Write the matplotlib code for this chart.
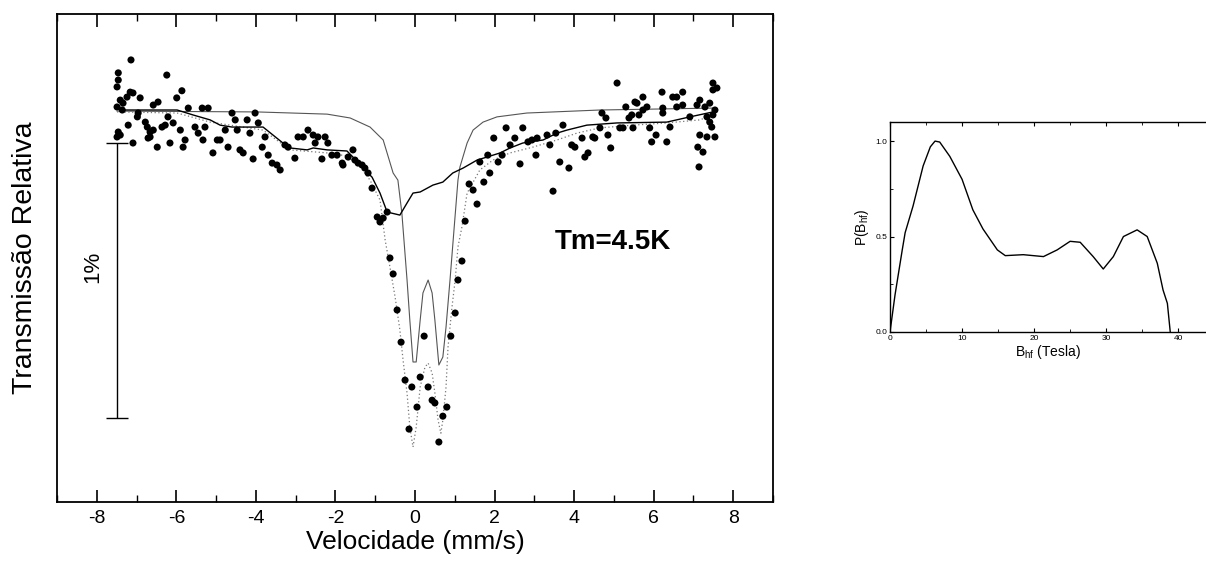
import matplotlib
matplotlib.use("Agg")
import matplotlib.pyplot as plt
from matplotlib.ticker import MultipleLocator
from matplotlib import font_manager as fm

names = {f.name for f in fm.fontManager.ttflist}
FAM = ['Liberation Sans Narrow', 'Liberation Sans', 'DejaVu Sans'] if 'Liberation Sans Narrow' in names else ['Liberation Sans', 'DejaVu Sans']
plt.rcParams['font.family'] = FAM
plt.rcParams['axes.unicode_minus'] = False
plt.rcParams['mathtext.default'] = 'regular'

# ---------------- data: Mossbauer spectrum ----------------
vel_data = [-7.14, -7.46, -7.46, -7.49, -6.24, -5.86, -7.16, -7.09, -6.91, -7.41,
            -7.34, -7.24, -5.99, -6.46, -6.58, -7.49, -7.36, -6.96, -6.98, -5.70,
            -5.35, -5.20, -6.21, -4.60, -4.52, -4.22, -4.02, -3.94, -6.78, -6.73,
            -6.66, -6.58, -7.21, -6.28, -6.36, -6.08, -5.53, -5.28, -5.90, -7.46,
            -7.41, -7.49, -5.45, -4.77, -4.47, -6.66, -6.71, -5.78, -5.83, -5.33,
            -4.97, -4.90, -4.15, -3.77, -7.09, -6.48, -6.16, -4.70, -4.40, -4.32,
            -3.84, -5.08, -4.07, -3.69, -3.59, -3.47, -3.39, -2.94, -2.81, -2.69,
            -2.56, -2.44, -2.26, -3.27, -3.19, -2.51, -2.19, -3.02, -2.34, -2.09,
            -1.96, -1.83, -1.81, -1.68, -1.56, -1.51, -1.43, -1.33, -1.26, -1.18,
            -1.08, -0.95, -0.88, -0.80, -0.70, -0.63, -0.55, -0.45, -0.35, -0.25,
            -0.08, -0.15, 0.05, 0.13, 0.23, 0.33, 0.43, 0.50, 0.60, 0.70,
            0.80, 0.90, 1.01, 1.08, 1.18, 1.26, 1.36, 1.46, 1.56, 1.73,
            1.88, 1.63, 1.83, 2.09, 1.98, 2.29, 2.71, 2.51, 2.39, 2.19,
            2.64, 2.84, 2.94, 3.07, 3.32, 3.04, 3.39, 3.54, 3.72, 3.64,
            3.87, 3.47, 3.94, 4.02, 4.20, 4.27, 4.35, 4.47, 4.52, 4.65,
            4.70, 4.80, 4.85, 4.92, 5.08, 5.15, 5.23, 5.30, 5.38, 5.45,
            5.48, 5.53, 5.58, 5.63, 5.73, 5.73, 5.83, 5.90, 5.95, 6.06,
            6.21, 6.23, 6.23, 6.33, 6.41, 6.48, 6.58, 6.73, 6.58, 6.73,
            6.91, 7.09, 7.16, 7.11, 7.24, 7.14, 7.16, 7.29, 7.41, 7.34,
            7.41, 7.46, 7.49, 7.49, 7.59, 7.54, 7.49, 7.54, 7.34]
trans_data = [100.182, 100.135, 100.109, 100.084, 100.127, 100.070, 100.065, 100.062, 100.044, 100.036,
              100.025, 100.047, 100.044, 100.029, 100.018, 100.011, 100.000, 99.989, 99.975, 100.007,
              100.007, 100.007, 99.975, 99.989, 99.964, 99.964, 99.989, 99.953, 99.956, 99.938,
              99.920, 99.927, 99.945, 99.945, 99.938, 99.953, 99.938, 99.938, 99.927, 99.920,
              99.909, 99.902, 99.916, 99.927, 99.927, 99.902, 99.898, 99.891, 99.865, 99.891,
              99.891, 99.891, 99.916, 99.902, 99.880, 99.865, 99.880, 99.865, 99.855, 99.844,
              99.865, 99.844, 99.822, 99.836, 99.807, 99.800, 99.782, 99.902, 99.902, 99.927,
              99.909, 99.902, 99.902, 99.873, 99.865, 99.880, 99.880, 99.825, 99.822, 99.836,
              99.836, 99.807, 99.800, 99.829, 99.855, 99.818, 99.807, 99.800, 99.789, 99.771,
              99.716, 99.611, 99.593, 99.607, 99.629, 99.462, 99.404, 99.273, 99.156, 99.018,
              98.993, 98.840, 98.920, 99.029, 99.178, 98.993, 98.945, 98.935, 98.793, 98.887,
              98.920, 99.178, 99.262, 99.382, 99.451, 99.596, 99.731, 99.709, 99.658, 99.738,
              99.771, 99.811, 99.836, 99.811, 99.898, 99.935, 99.935, 99.898, 99.873, 99.836,
              99.804, 99.884, 99.891, 99.898, 99.909, 99.836, 99.873, 99.916, 99.945, 99.811,
              99.789, 99.705, 99.873, 99.865, 99.898, 99.829, 99.844, 99.902, 99.898, 99.935,
              99.989, 99.971, 99.909, 99.862, 100.098, 99.935, 99.935, 100.011, 99.971, 99.982,
              99.935, 100.029, 100.025, 99.982, 100.000, 100.047, 100.011, 99.935, 99.884, 99.909,
              100.065, 100.007, 99.989, 99.884, 99.938, 100.047, 100.047, 100.065, 100.011, 100.018,
              99.975, 100.018, 100.036, 99.865, 99.847, 99.793, 99.909, 100.011, 100.025, 99.975,
              99.956, 99.938, 100.098, 100.073, 100.080, 100.000, 99.982, 99.902, 99.902]

# doublet subspectrum (thin line)
vel_doublet = [-7.49, -3.97, -2.21, -1.63, -1.13, -0.80, -0.55, -0.43, -0.33, -0.20,
               -0.13, -0.05, 0.03, 0.13, 0.20, 0.33, 0.43, 0.50, 0.60, 0.70,
               0.78, 0.88, 0.98, 1.08, 1.13, 1.31, 1.46, 1.71, 2.06, 2.81,
               4.65, 7.49]
trans_doublet = [99.996, 99.993, 99.985, 99.971, 99.938, 99.891, 99.771, 99.745, 99.625, 99.382,
                 99.236, 99.084, 99.084, 99.236, 99.335, 99.382, 99.335, 99.236, 99.073, 99.102,
                 99.211, 99.382, 99.564, 99.745, 99.793, 99.880, 99.927, 99.956, 99.975, 99.989,
                 100.000, 100.007]

# hyperfine-field distribution subspectrum (black line)
vel_hf = [-7.41, -5.98, -5.58, -5.15, -4.90, -4.60, -3.82, -3.32, -3.14, -2.71,
          -2.56, -2.21, -1.71, -1.56, -1.31, -1.08, -0.88, -0.70, -0.38, -0.20,
          -0.05, 0.13, 0.45, 0.70, 0.95, 1.21, 1.56, 1.81, 2.14, 2.39,
          2.71, 3.22, 3.57, 3.82, 4.32, 5.08, 6.33, 6.91, 7.49]
trans_hf = [100.000, 100.000, 99.982, 99.964, 99.945, 99.938, 99.938, 99.880, 99.862, 99.855,
            99.862, 99.855, 99.851, 99.829, 99.789, 99.756, 99.698, 99.629, 99.618, 99.662,
            99.698, 99.702, 99.727, 99.738, 99.771, 99.789, 99.818, 99.829, 99.844, 99.862,
            99.880, 99.891, 99.916, 99.927, 99.945, 99.953, 99.956, 99.975, 99.993]

# total fit (dotted line)
vel_total = [-7.49, -5.98, -5.15, -3.82, -3.14, -2.21, -1.71, -1.38, -1.13, -0.88,
             -0.75, -0.63, -0.50, -0.38, -0.30, -0.20, -0.13, -0.05, 0.03, 0.13,
             0.25, 0.33, 0.43, 0.50, 0.58, 0.65, 0.70, 0.78, 0.83, 0.93,
             1.01, 1.08, 1.18, 1.31, 1.63, 1.96, 2.39, 2.96, 3.57, 4.07,
             4.65, 5.48, 6.33, 7.16, 7.49]
trans_total = [99.993, 99.989, 99.956, 99.927, 99.855, 99.844, 99.833, 99.793, 99.745, 99.673,
               99.527, 99.429, 99.320, 99.200, 99.091, 98.971, 98.847, 98.775, 98.847, 98.993,
               99.065, 99.080, 99.044, 98.971, 98.873, 98.825, 98.873, 98.993, 99.138, 99.284,
               99.382, 99.502, 99.575, 99.698, 99.782, 99.818, 99.844, 99.865, 99.891, 99.916,
               99.935, 99.945, 99.953, 99.964, 99.982]

scale_bar_vel = -7.49
scale_bar_top = 99.88
scale_bar_bottom = 98.88

x_ticks = [-8, -6, -4, -2, 0, 2, 4, 6, 8]

# ---------------- data: hyperfine field distribution ----------------
b_hf = [0, 0.7, 1.7, 2.1, 3.2, 4.6, 5.6, 6.25, 6.9, 8.3,
        10.0, 11.5, 12.9, 14.9, 16.0, 18.5, 21.3, 23.2, 25.0, 26.4,
        28.2, 29.6, 31.0, 32.4, 34.3, 35.7, 37.1, 37.9, 38.5, 38.9]
p_bhf = [0.0, 0.195, 0.43, 0.52, 0.66, 0.87, 0.97, 1.00, 0.995, 0.92,
         0.80, 0.64, 0.54, 0.43, 0.40, 0.405, 0.395, 0.43, 0.475, 0.47,
         0.395, 0.33, 0.395, 0.50, 0.535, 0.50, 0.36, 0.22, 0.15, 0.0]
inset_xticks = [0, 10, 20, 30, 40]
inset_yticks = [0.0, 0.5, 1.0]
inset_yticklabels = ['0.0', '0.5', '1.0']

# ---------------- figure ----------------
fig = plt.figure(figsize=(12.06, 5.62), dpi=100)
ax = fig.add_axes([57/1206, 1-502/562, (773-57)/1206, (502-14)/562])

ax.plot(vel_doublet, trans_doublet, color='#555555', lw=0.8, zorder=2)
ax.plot(vel_hf, trans_hf, color='black', lw=1.0, zorder=3)
ax.plot(vel_total, trans_total, color='#777777', lw=0.9, ls=(0, (1, 2)), zorder=2)
ax.scatter(vel_data, trans_data, s=26, color='black', edgecolors='none', zorder=4)

ax.errorbar([scale_bar_vel], [(scale_bar_top + scale_bar_bottom) / 2],
            yerr=[(scale_bar_top - scale_bar_bottom) / 2], fmt='none',
            ecolor='black', elinewidth=1.0, capsize=8, capthick=1.0, zorder=3)
ax.text(-8.1, 99.43, '1%', rotation=90, ha='center', va='center', fontsize=16)

ax.text(4.97, 99.52, 'Tm=4.5K', ha='center', va='center', fontsize=20,
        fontweight='bold')

ax.set_xlim(-9, 9)
ax.set_ylim(98.575, 100.349)
ax.set_xticks(x_ticks)
ax.set_xticklabels([str(t) for t in x_ticks], fontsize=14)
ax.xaxis.set_minor_locator(MultipleLocator(1))
ax.tick_params(axis='x', which='major', direction='in', length=9, width=1.2,
               top=True, pad=6)
ax.tick_params(axis='x', which='minor', direction='in', length=5, width=1.0, top=True)
ax.set_yticks([])
for s in ax.spines.values():
    s.set_linewidth(1.3)
ax.set_xlabel('Velocidade (mm/s)', fontsize=19, labelpad=2)
ax.set_ylabel('Transmissão Relativa', fontsize=20.5, labelpad=14)

# inset
ax2 = fig.add_axes([890/1206, 1-332/562, 317/1206, (332-122)/562])
ax2.plot(b_hf, p_bhf, color='black', lw=1.0)
ax2.set_xlim(0, 44)
ax2.set_ylim(0, 1.1)
ax2.set_xticks(inset_xticks)
ax2.set_xticklabels([str(t) for t in inset_xticks], fontsize=6)
ax2.set_yticks(inset_yticks)
ax2.set_yticklabels(inset_yticklabels, fontsize=6)
ax2.xaxis.set_minor_locator(MultipleLocator(5))
ax2.yaxis.set_minor_locator(MultipleLocator(0.25))
ax2.tick_params(which='major', direction='in', length=3, width=0.8, top=True, pad=2)
ax2.tick_params(which='minor', direction='in', length=2, width=0.6, top=True)
ax2.spines['right'].set_visible(False)
for s in ['left', 'top', 'bottom']:
    ax2.spines[s].set_linewidth(1.0)
ax2.set_xlabel('B$_{hf}$ (Tesla)', fontsize=10, labelpad=1)
ax2.set_ylabel('P(B$_{hf}$)', fontsize=10, labelpad=3)

fig.savefig('out.png', dpi=100)
